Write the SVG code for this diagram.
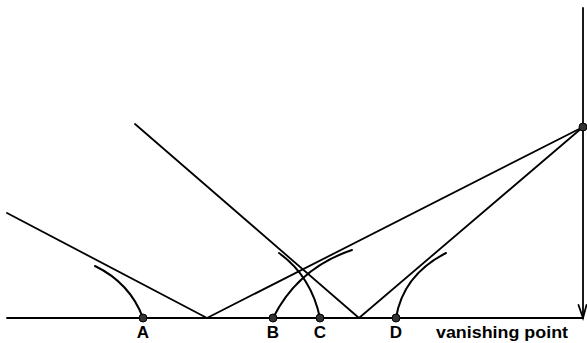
<svg xmlns="http://www.w3.org/2000/svg" width="587" height="343" viewBox="0 0 587 343">
<style>
.ln{stroke:#000;stroke-width:1.8;fill:none;stroke-linecap:round}
.arc{stroke:#000;stroke-width:2;fill:none;stroke-linecap:round}
.dot{fill:#333;stroke:#000;stroke-width:1}
.lbl{font-family:"Liberation Sans",Arial,sans-serif;font-weight:bold;font-size:17px;fill:#000}
</style>
<rect width="587" height="343" fill="#fff"/>
<g id="connectors">
<line class="ln" x1="7" y1="318" x2="583" y2="318"/>
<line class="ln" x1="583" y1="8" x2="583" y2="318"/>
<polyline class="ln" points="578.5,305 583,318 586.5,305"/>
<line class="ln" x1="7" y1="213" x2="207" y2="318"/>
<line class="ln" x1="207" y1="318" x2="583" y2="127"/>
<line class="ln" x1="135" y1="124" x2="359" y2="318"/>
<line class="ln" x1="359" y1="318" x2="583" y2="127"/>
<path class="arc" d="M95,266 Q130,283 143,318"/>
<path class="arc" d="M273,318 Q298,268 352,250"/>
<path class="arc" d="M279,253 Q311,276 320,318"/>
<path class="arc" d="M396,318 Q403,275 446,253"/>
</g>
<g id="vp"><circle class="dot" cx="583" cy="127" r="4"/></g>
<g id="A"><circle class="dot" cx="143" cy="318" r="4"/><text class="lbl" x="143" y="338" text-anchor="middle">A</text></g>
<g id="B"><circle class="dot" cx="273" cy="318" r="4"/><text class="lbl" x="273" y="338" text-anchor="middle">B</text></g>
<g id="C"><circle class="dot" cx="320" cy="318" r="4"/><text class="lbl" x="320" y="338" text-anchor="middle">C</text></g>
<g id="D"><circle class="dot" cx="396" cy="318" r="4"/><text class="lbl" x="396" y="338" text-anchor="middle">D</text></g>
<g id="label"><text class="lbl" x="436" y="338" textLength="132" lengthAdjust="spacingAndGlyphs">vanishing point</text></g>
</svg>
